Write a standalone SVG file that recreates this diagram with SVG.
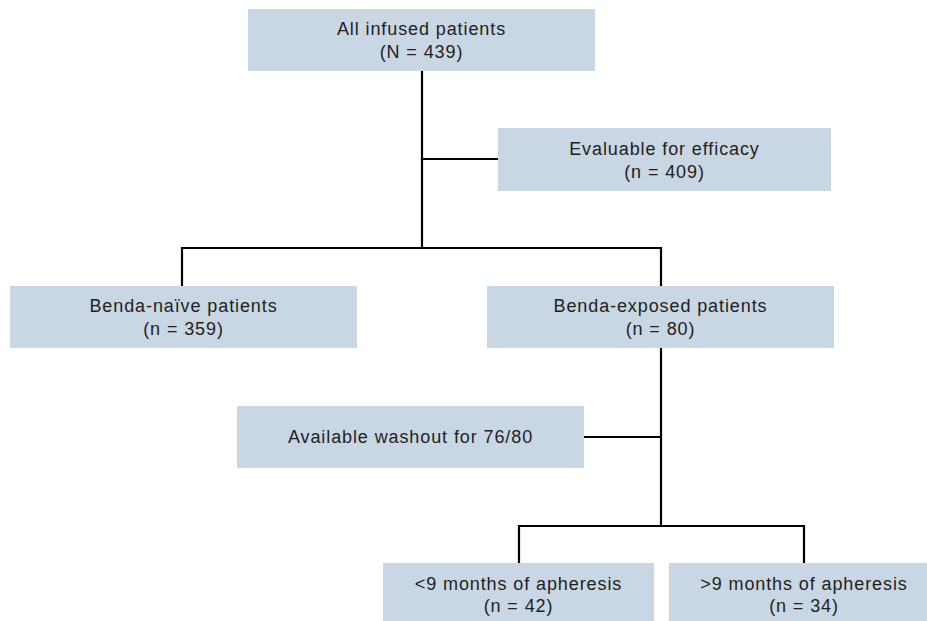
<svg xmlns="http://www.w3.org/2000/svg" width="927" height="621" viewBox="0 0 927 621">
<style>
.box{fill:#c9d6e3}
.t{font-family:"Liberation Sans",Arial,sans-serif;font-size:18px;fill:#231f20;text-anchor:middle;letter-spacing:0.9px}
.c{stroke:#000;stroke-width:2.2;fill:none}
</style>
<rect width="927" height="621" fill="#fff"/>
<g id="connectors">
<path class="c" d="M422 71 V248"/>
<path class="c" d="M422 159 H498"/>
<path class="c" d="M182 286 V248 H661 V286"/>
<path class="c" d="M661 348 V526"/>
<path class="c" d="M584 437 H661"/>
<path class="c" d="M519 563 V526 H804 V563"/>
</g>
<g id="all">
<rect class="box" x="248" y="9" width="347" height="62"/>
<text class="t" x="421.5" y="35">All infused patients</text>
<text class="t" x="421.5" y="58">(N = 439)</text>
</g>
<g id="evaluable">
<rect class="box" x="498" y="128" width="333" height="63"/>
<text class="t" x="664.5" y="155">Evaluable for efficacy</text>
<text class="t" x="664.5" y="178">(n = 409)</text>
</g>
<g id="naive">
<rect class="box" x="10" y="286" width="347" height="62"/>
<text class="t" x="183.5" y="312">Benda-naïve patients</text>
<text class="t" x="183.5" y="335">(n = 359)</text>
</g>
<g id="exposed">
<rect class="box" x="487" y="286" width="347" height="62"/>
<text class="t" x="660.5" y="312">Benda-exposed patients</text>
<text class="t" x="660.5" y="335">(n = 80)</text>
</g>
<g id="washout">
<rect class="box" x="237" y="406" width="347" height="62"/>
<text class="t" x="410.5" y="443">Available washout for 76/80</text>
</g>
<g id="lt9">
<rect class="box" x="383" y="563" width="271" height="58"/>
<text class="t" x="518.5" y="590">&lt;9 months of apheresis</text>
<text class="t" x="518.5" y="612">(n = 42)</text>
</g>
<g id="gt9">
<rect class="box" x="669" y="563" width="270" height="58"/>
<text class="t" x="804" y="590">&gt;9 months of apheresis</text>
<text class="t" x="804" y="612">(n = 34)</text>
</g>
</svg>
